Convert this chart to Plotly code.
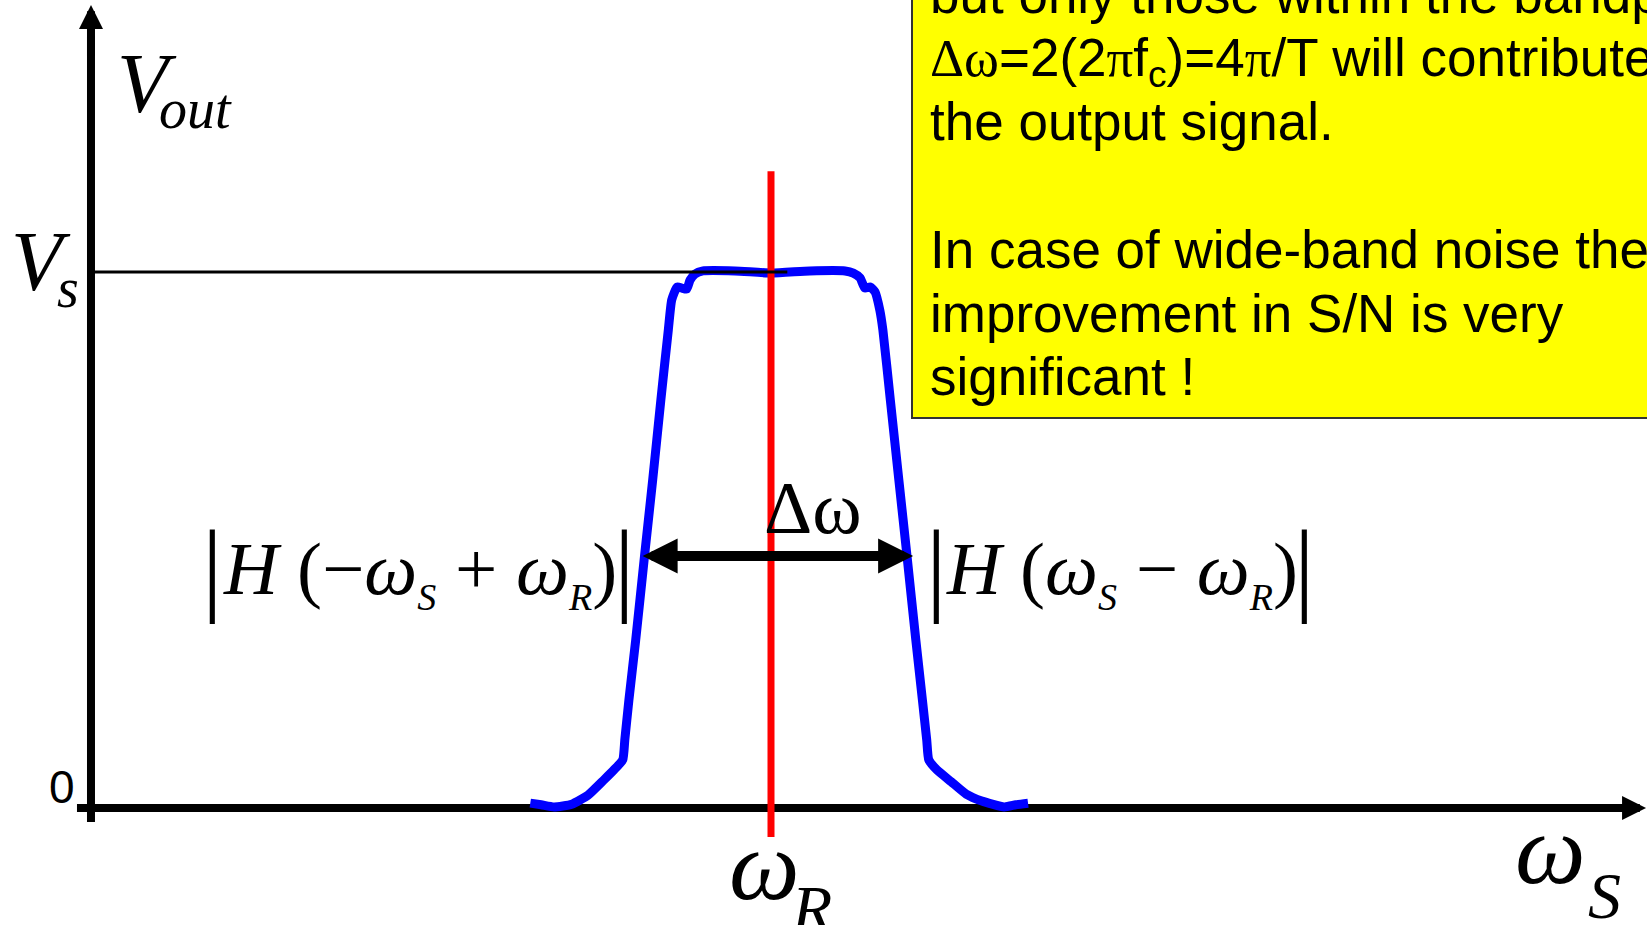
import plotly.graph_objects as go

# Output amplitude of the lock-in versus signal frequency (omega_R placed at 10)
omega = [6.46, 6.62, 6.81, 7.07, 7.31, 7.54, 7.69, 7.82, 7.85, 7.91,
         8.01, 8.14, 8.26, 8.38, 8.49, 8.54, 8.62, 8.69, 8.76, 8.81,
         8.88, 9.00, 9.47, 10.01, 10.57, 11.09, 11.21, 11.31, 11.38, 11.46,
         11.53, 11.60, 11.645, 11.755, 11.88, 12.00, 12.13, 12.227, 12.29, 12.32,
         12.44, 12.65, 12.87, 13.10, 13.43, 13.60, 13.78]
v_out = [0.009, 0.006, 0.002, 0.007, 0.024, 0.052, 0.071, 0.090, 0.127, 0.201,
         0.313, 0.470, 0.612, 0.761, 0.892, 0.948, 0.972, 0.970, 0.968, 0.985,
         0.996, 1.002, 1.002, 0.998, 1.002, 1.002, 0.998, 0.989, 0.970, 0.972,
         0.963, 0.929, 0.892, 0.761, 0.612, 0.470, 0.313, 0.201, 0.127, 0.090,
         0.071, 0.049, 0.026, 0.013, 0.002, 0.006, 0.009]

omega_r = 10.0           # reference frequency
v_s = 1.0                # signal amplitude
band_lo, band_hi = 8.09, 12.09   # ends of the bandwidth arrow
band_level = 0.47

box_lines = [
    "but only those within the bandpass",
    "<span style=\"font-family:Liberation Serif\">\u0394\u03c9</span>=2(2"
    "<span style=\"font-family:Liberation Serif\">\u03c0</span>f<sub>c</sub>)=4"
    "<span style=\"font-family:Liberation Serif\">\u03c0</span>/T will contribute to",
    "the output signal.",
    "In case of wide-band noise the",
    "improvement in S/N is very",
    "significant !",
]
box_baselines_px = [11, 74, 138, 266, 330, 393]

W, H = 1647, 925
X_RANGE = [-1.338, 22.882]
Y_RANGE = [-0.2183, 1.5075]

SERIF = "Liberation Serif"
SANS = "Liberation Sans"

fig = go.Figure()

fig.add_trace(go.Scatter(x=omega, y=v_out, mode="lines",
                         line=dict(color="#0000ff", width=9, shape="spline", smoothing=0.5),
                         hoverinfo="skip"))
fig.add_trace(go.Scatter(x=[omega_r, omega_r], y=[-0.054, 1.188], mode="lines",
                         line=dict(color="#ff0000", width=7), hoverinfo="skip"))
fig.add_trace(go.Scatter(x=[0, omega_r + 0.24], y=[v_s, v_s], mode="lines",
                         line=dict(color="#000000", width=3), hoverinfo="skip"))

shapes = [
    # axes
    dict(type="line", xref="x", yref="y", x0=0, x1=0, y0=-0.026, y1=1.44,
         line=dict(color="black", width=8), layer="below"),
    dict(type="line", xref="x", yref="y", x0=-0.206, x1=22.4, y0=0, y1=0,
         line=dict(color="black", width=8), layer="below"),
    # yellow note box
    dict(type="rect", xref="paper", yref="paper",
         x0=912 / W, x1=1.02, y0=1 - 418 / H, y1=1.02,
         fillcolor="#ffff00", line=dict(color="#333333", width=2), layer="below"),
]

ann = []


def label(text, x, y, size, family=SERIF, xanchor="center", yanchor="middle"):
    ann.append(dict(text=text, x=x, y=y, xref="x", yref="y", showarrow=False,
                    xanchor=xanchor, yanchor=yanchor,
                    font=dict(family=family, size=size, color="black")))


# axis arrow heads
ann.append(dict(x=0, y=1.498, ax=0, ay=1.40, xref="x", yref="y", axref="x", ayref="y",
                text="", showarrow=True, arrowhead=2, arrowsize=0.6, arrowwidth=8,
                arrowcolor="black"))
ann.append(dict(x=22.868, y=0, ax=22.3, ay=0, xref="x", yref="y", axref="x", ayref="y",
                text="", showarrow=True, arrowhead=2, arrowsize=0.6, arrowwidth=8,
                arrowcolor="black"))
# bandwidth arrow
ann.append(dict(x=band_hi, y=band_level, ax=band_lo, ay=band_level,
                xref="x", yref="y", axref="x", ayref="y",
                text="", showarrow=True, arrowhead=2, startarrowhead=2,
                arrowside="end+start", arrowsize=0.7, startarrowsize=0.7,
                arrowwidth=10, arrowcolor="black"))

label("<i>V</i>", 0.824, 1.3515, 84)
label("<i>out</i>", 1.53, 1.304, 56)
label("<i>V</i>", -0.735, 1.019, 84)
label("<i>s</i>", -0.34, 0.970, 56)
label("0", -0.426, 0.039, 46, family=SANS)
label("<i>\u03c9</i>", 9.91, -0.108, 100)
label("<i>R</i>", 10.60, -0.188, 66)
label("<i>\u03c9</i>", 21.46, -0.0765, 100)
label("<i>S</i>", 22.26, -0.164, 66)
label("\u0394\u03c9", 10.62, 0.560, 75)

sub = lambda s: "<sub><span style=\"font-size:38px\"><i>%s</i></span></sub>" % s
label("<i>H</i> (\u2212<i>\u03c9</i>" + sub("S") + " + <i>\u03c9</i>" + sub("R") + ")",
      4.84, 0.439, 75)
label("|", 1.78, 0.449, 103)
label("|", 7.85, 0.449, 103)
label("<i>H</i> (<i>\u03c9</i>" + sub("S") + " \u2212 <i>\u03c9</i>" + sub("R") + ")",
      15.16, 0.440, 75)
label("|", 12.44, 0.449, 103)
label("|", 17.85, 0.449, 103)

for txt, base in zip(box_lines, box_baselines_px):
    ann.append(dict(text=txt, x=928 / W, y=1 - (base - 48) / H,
                    xref="paper", yref="paper", showarrow=False,
                    xanchor="left", yanchor="top", align="left",
                    font=dict(family=SANS, size=53, color="black")))

fig.update_layout(
    width=W, height=H,
    margin=dict(l=0, r=0, t=0, b=0),
    paper_bgcolor="white", plot_bgcolor="white",
    showlegend=False,
    xaxis=dict(range=X_RANGE, visible=False, fixedrange=True),
    yaxis=dict(range=Y_RANGE, visible=False, fixedrange=True),
    shapes=shapes,
    annotations=ann,
)

fig.write_html("out.html", config=dict(displayModeBar=False))
